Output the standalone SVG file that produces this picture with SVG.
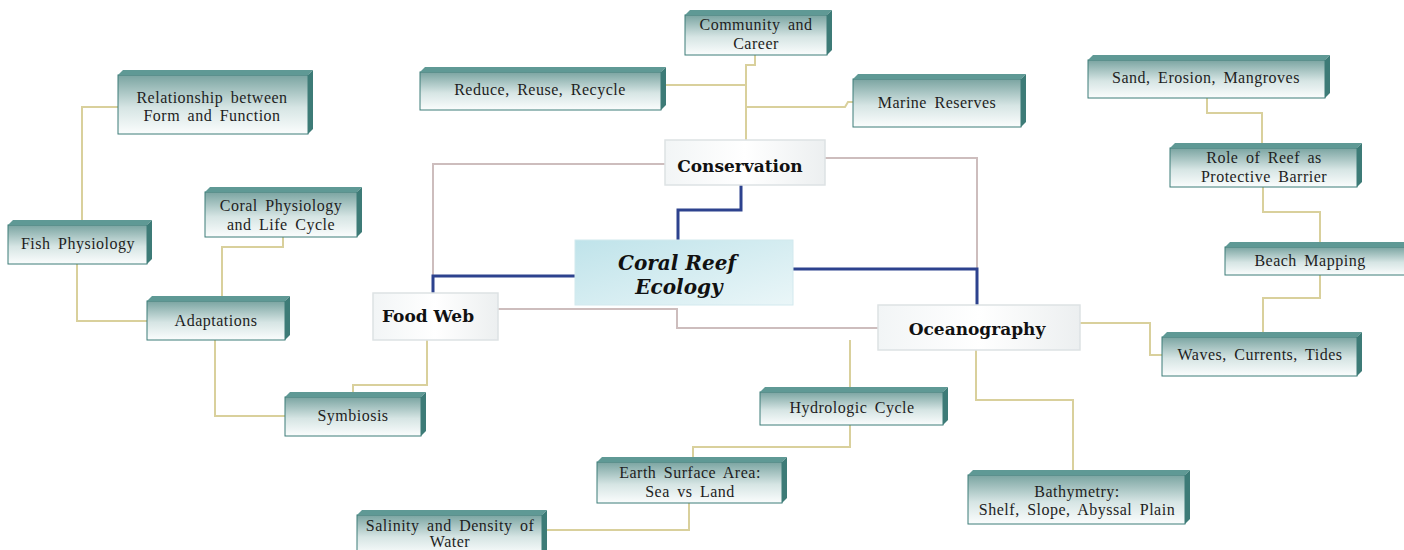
<svg xmlns="http://www.w3.org/2000/svg" width="1404" height="550" viewBox="0 0 1404 550">
<defs>
<linearGradient id="face" x1="0" y1="0" x2="0" y2="1">
<stop offset="0" stop-color="#7aa4a1"/>
<stop offset="0.55" stop-color="#d6e5e4"/>
<stop offset="1" stop-color="#fbfdfd"/>
</linearGradient>
<linearGradient id="mainface" x1="0" y1="0" x2="1" y2="0">
<stop offset="0" stop-color="#f2f5f6"/>
<stop offset="0.5" stop-color="#ffffff"/>
<stop offset="1" stop-color="#eceff0"/>
</linearGradient>
<linearGradient id="core" x1="0" y1="0" x2="1" y2="1">
<stop offset="0" stop-color="#bfe3ea"/>
<stop offset="1" stop-color="#eaf6f8"/>
</linearGradient>
<style>
.front{fill:url(#face);stroke:#3c7d79;stroke-width:1}
.top{fill:#5f9995}
.side{fill:#3d7b77}
.t{font-family:"Liberation Serif","DejaVu Serif",serif;font-size:16px;fill:#1e1e1e;text-anchor:middle;letter-spacing:0.5px;word-spacing:3px}
.b{font-family:"DejaVu Serif","Liberation Serif",serif;font-size:17px;font-weight:bold;fill:#111;text-anchor:middle}
.c{font-family:"DejaVu Serif","Liberation Serif",serif;font-size:20px;font-weight:bold;font-style:italic;fill:#111;text-anchor:middle}
.main{fill:url(#mainface);stroke:#dde2e4;stroke-width:1.5}
.blue{fill:none;stroke:#2d428e;stroke-width:3}
.gray{fill:none;stroke:#cdbdbd;stroke-width:2}
.yel{fill:none;stroke:#d9d09c;stroke-width:2}
</style>
</defs>
<rect width="1404" height="550" fill="#ffffff"/>
<g id="connectors">
<path class="gray" d="M665,164 H433 V276"/>
<path class="gray" d="M825,158 H977 V269"/>
<path class="gray" d="M498,309 H677 V328 H878"/>
<path class="blue" d="M678,240 V210 H741 V185"/>
<path class="blue" d="M575,276 H433 V293"/>
<path class="blue" d="M793,269 H977 V305"/>
<path class="yel" d="M746,140 V65 H755 V55"/>
<path class="yel" d="M666,85 H746"/>
<path class="yel" d="M746,107 H845 L848,102 H853"/>
<path class="yel" d="M82,220 V107 H118"/>
<path class="yel" d="M77,264 V321 H147"/>
<path class="yel" d="M222,296 V247 H283 V237"/>
<path class="yel" d="M215,340 V416 H285"/>
<path class="yel" d="M427,340 V385 H353 V392"/>
<path class="yel" d="M850,340 V387"/>
<path class="yel" d="M850,425 V447 H693 V457"/>
<path class="yel" d="M689,503 V530 H547"/>
<path class="yel" d="M976,350 V400 H1073 V470"/>
<path class="yel" d="M1080,323 H1150 V355 H1162"/>
<path class="yel" d="M1263,332 V298 H1320 V275"/>
<path class="yel" d="M1263,187 V212 H1320 V242"/>
<path class="yel" d="M1207,98 V113 H1262 V143"/>
</g>
<g id="coral-reef-ecology">
<rect x="575" y="240" width="218" height="65" fill="url(#core)" stroke="#d2e9ee" stroke-width="1"/>
<text class="c" x="677" y="270">Coral Reef</text>
<text class="c" x="679" y="294">Ecology</text>
</g>
<g id="conservation">
<rect class="main" x="665" y="140" width="160" height="45"/>
<text class="b" x="740" y="172">Conservation</text>
</g>
<g id="food-web">
<rect class="main" x="373" y="293" width="125" height="47"/>
<text class="b" x="428" y="322">Food Web</text>
</g>
<g id="oceanography">
<rect class="main" x="878" y="305" width="202" height="45"/>
<text class="b" x="977" y="335">Oceanography</text>
</g>
<g id="relationship">
<rect class="front" x="118" y="75" width="190" height="59"/>
<polygon class="top" points="118,75 123,70 313,70 308,75"/>
<polygon class="side" points="308,75 313,70 313,129 308,134"/>
<text class="t" x="212" y="103">Relationship between</text>
<text class="t" x="212" y="121">Form and Function</text>
</g>
<g id="fish-physiology">
<rect class="front" x="8" y="225" width="139" height="39"/>
<polygon class="top" points="8,225 13,220 152,220 147,225"/>
<polygon class="side" points="147,225 152,220 152,259 147,264"/>
<text class="t" x="78" y="249">Fish Physiology</text>
</g>
<g id="coral-physiology">
<rect class="front" x="205" y="192" width="152" height="45"/>
<polygon class="top" points="205,192 210,187 362,187 357,192"/>
<polygon class="side" points="357,192 362,187 362,232 357,237"/>
<text class="t" x="281" y="211">Coral Physiology</text>
<text class="t" x="281" y="230">and Life Cycle</text>
</g>
<g id="adaptations">
<rect class="front" x="147" y="301" width="138" height="39"/>
<polygon class="top" points="147,301 152,296 290,296 285,301"/>
<polygon class="side" points="285,301 290,296 290,335 285,340"/>
<text class="t" x="216" y="326">Adaptations</text>
</g>
<g id="symbiosis">
<rect class="front" x="285" y="397" width="136" height="39"/>
<polygon class="top" points="285,397 290,392 426,392 421,397"/>
<polygon class="side" points="421,397 426,392 426,431 421,436"/>
<text class="t" x="353" y="421">Symbiosis</text>
</g>
<g id="community-career">
<rect class="front" x="685" y="15" width="142" height="40"/>
<polygon class="top" points="685,15 690,10 832,10 827,15"/>
<polygon class="side" points="827,15 832,10 832,50 827,55"/>
<text class="t" x="756" y="30">Community and</text>
<text class="t" x="756" y="49">Career</text>
</g>
<g id="reduce-reuse-recycle">
<rect class="front" x="420" y="72" width="241" height="38"/>
<polygon class="top" points="420,72 425,67 666,67 661,72"/>
<polygon class="side" points="661,72 666,67 666,105 661,110"/>
<text class="t" x="540" y="95">Reduce, Reuse, Recycle</text>
</g>
<g id="marine-reserves">
<rect class="front" x="853" y="79" width="168" height="48"/>
<polygon class="top" points="853,79 858,74 1026,74 1021,79"/>
<polygon class="side" points="1021,79 1026,74 1026,122 1021,127"/>
<text class="t" x="937" y="108">Marine Reserves</text>
</g>
<g id="sand-erosion-mangroves">
<rect class="front" x="1088" y="60" width="237" height="38"/>
<polygon class="top" points="1088,60 1093,55 1330,55 1325,60"/>
<polygon class="side" points="1325,60 1330,55 1330,93 1325,98"/>
<text class="t" x="1206" y="83">Sand, Erosion, Mangroves</text>
</g>
<g id="role-of-reef">
<rect class="front" x="1170" y="148" width="187" height="39"/>
<polygon class="top" points="1170,148 1175,143 1362,143 1357,148"/>
<polygon class="side" points="1357,148 1362,143 1362,182 1357,187"/>
<text class="t" x="1264" y="163">Role of Reef as</text>
<text class="t" x="1264" y="182">Protective Barrier</text>
</g>
<g id="beach-mapping">
<rect class="front" x="1225" y="247" width="180" height="28"/>
<polygon class="top" points="1225,247 1230,242 1410,242 1405,247"/>
<text class="t" x="1310" y="266">Beach Mapping</text>
</g>
<g id="waves-currents-tides">
<rect class="front" x="1162" y="337" width="195" height="39"/>
<polygon class="top" points="1162,337 1167,332 1362,332 1357,337"/>
<polygon class="side" points="1357,337 1362,332 1362,371 1357,376"/>
<text class="t" x="1260" y="360">Waves, Currents, Tides</text>
</g>
<g id="hydrologic-cycle">
<rect class="front" x="760" y="392" width="183" height="33"/>
<polygon class="top" points="760,392 765,387 948,387 943,392"/>
<polygon class="side" points="943,392 948,387 948,420 943,425"/>
<text class="t" x="852" y="413">Hydrologic Cycle</text>
</g>
<g id="earth-surface-area">
<rect class="front" x="597" y="462" width="185" height="41"/>
<polygon class="top" points="597,462 602,457 787,457 782,462"/>
<polygon class="side" points="782,462 787,457 787,498 782,503"/>
<text class="t" x="690" y="478">Earth Surface Area:</text>
<text class="t" x="690" y="497">Sea vs Land</text>
</g>
<g id="salinity-density">
<rect class="front" x="357" y="515" width="185" height="40"/>
<polygon class="top" points="357,515 362,510 547,510 542,515"/>
<polygon class="side" points="542,515 547,510 547,555 542,560"/>
<text class="t" x="450" y="531">Salinity and Density of</text>
<text class="t" x="450" y="547">Water</text>
</g>
<g id="bathymetry">
<rect class="front" x="968" y="475" width="217" height="49"/>
<polygon class="top" points="968,475 973,470 1190,470 1185,475"/>
<polygon class="side" points="1185,475 1190,470 1190,519 1185,524"/>
<text class="t" x="1077" y="497">Bathymetry:</text>
<text class="t" x="1077" y="515">Shelf, Slope, Abyssal Plain</text>
</g>
</svg>
